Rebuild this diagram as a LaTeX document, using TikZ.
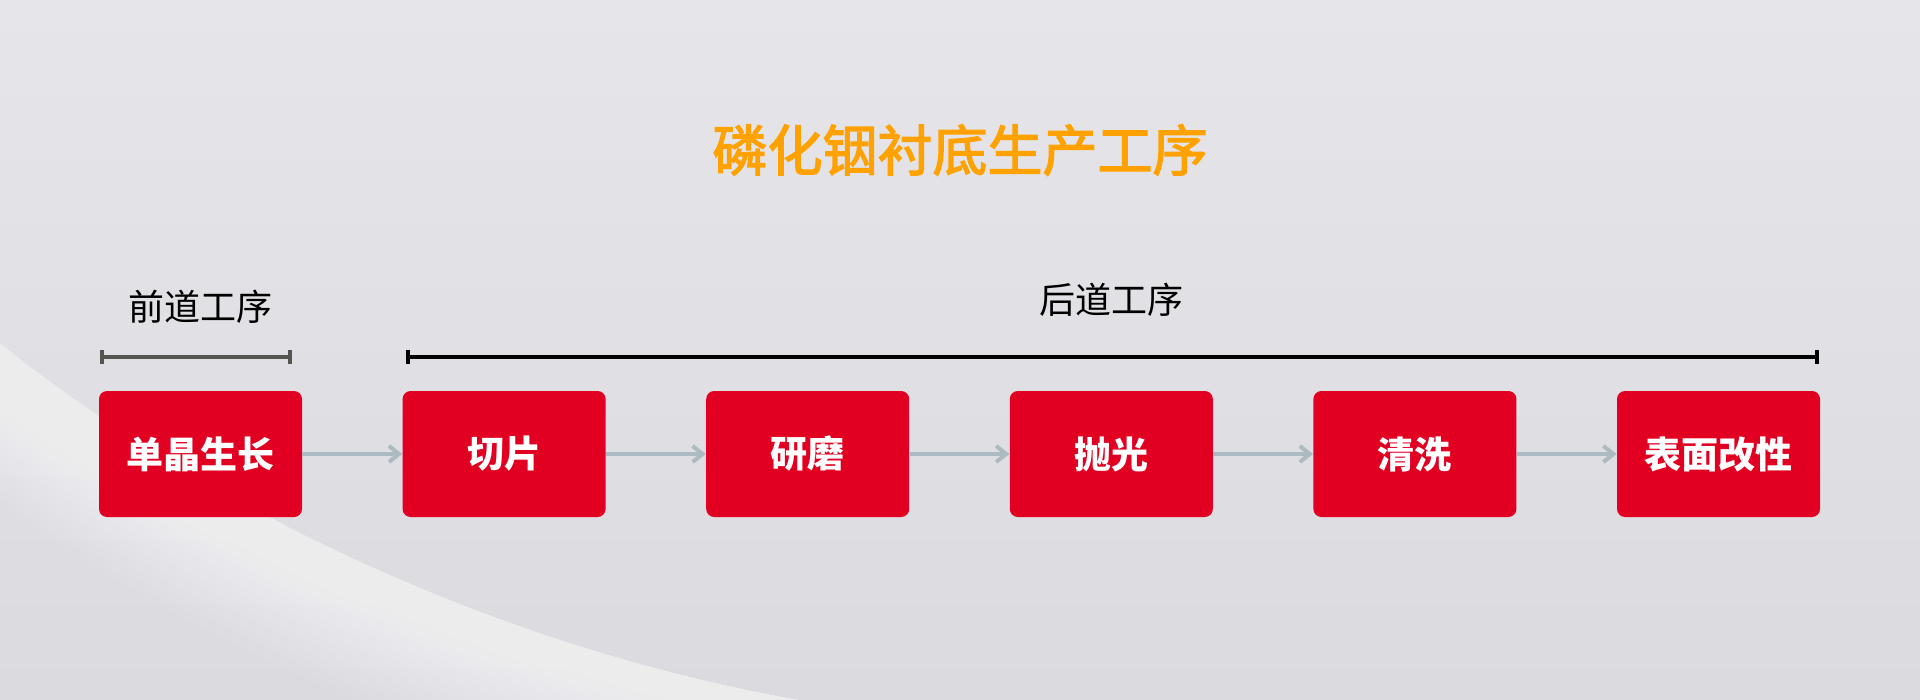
\documentclass[tikz,border=0pt]{standalone}
\usepackage{fontspec}
\setmainfont{Noto Sans CJK SC}
\newfontfamily\titlefont{Noto Sans CJK SC}[FakeBold=2.5]
\usepackage{tikz}
\usetikzlibrary{arrows.meta}

\definecolor{bggray}{RGB}{219,218,223}
\definecolor{bglight}{RGB}{230,229,233}
\definecolor{boxred}{RGB}{225,0,34}
\definecolor{titleorange}{RGB}{255,162,0}
\definecolor{flowgray}{RGB}{172,186,193}
\definecolor{frontgray}{RGB}{85,85,80}

\tikzset{
  stepbox/.style={fill=boxred, rounded corners=4pt, minimum width=101.5pt, minimum height=63pt,
    inner sep=0pt, text=white, font=\bfseries\fontsize{18.5}{18.5}\selectfont},
  flow/.style={draw=flowgray, line width=2pt, -{Straight Barb[length=5pt,width=8pt]}},
  span/.style={line width=1.8pt, {Bar[width=7pt]}-{Bar[width=7pt]}},
  spanlabel/.style={inner sep=0pt, font=\fontsize{18}{18}\selectfont},
  glow/.style={draw=white, line cap=round}
}

\begin{document}
\begin{tikzpicture}[x=0.5pt,y=0.5pt,yscale=-1,xscale=1]
\useasboundingbox (0,0) rectangle (1920,700);

%Background
\fill [top color=bglight, bottom color=bggray] (0,0) rectangle (1920,700);
%Swoosh lower left
\begin{scope}
\clip (0,343) .. controls (170,480) and (460,640) .. (800,700) -- (0,700) -- cycle;
\foreach \w in {6,18,...,260}
  \draw [glow, line width=\w*0.5pt, opacity=0.05] (0,343) .. controls (170,480) and (460,640) .. (800,700);
\end{scope}
%Swoosh lower right
\begin{scope}
\clip (1350,700) .. controls (1560,640) and (1760,600) .. (1920,585) -- (1920,700) -- cycle;
\foreach \w in {8,20,...,260}
  \draw [glow, line width=\w*0.5pt, opacity=0.025] (1350,700) .. controls (1560,640) and (1760,600) .. (1920,585);
\end{scope}

% Text Node
\node (title) [inner sep=0pt, text=titleorange, font=\titlefont\fontsize{27.5}{27.5}\selectfont] at (960,150) {磷化铟衬底生产工序};

%Process boxes
\node (grow)   [stepbox] at (200.5,454) {单晶生长};
\node (slice)  [stepbox] at (504.1,454) {切片};
\node (grind)  [stepbox] at (807.7,454) {研磨};
\node (polish) [stepbox] at (1111.3,454) {抛光};
\node (clean)  [stepbox] at (1414.9,454) {清洗};
\node (modify) [stepbox] at (1718.5,454) {表面改性};

%Straight Lines
\draw [flow] (grow) -- (slice);
\draw [flow] (slice) -- (grind);
\draw [flow] (grind) -- (polish);
\draw [flow] (polish) -- (clean);
\draw [flow] (clean) -- (modify);

%Brackets
\coordinate (frontL) at (100,357);
\coordinate (frontR) at (292,357);
\coordinate (backL) at (406,357);
\coordinate (backR) at (1819,357);
\draw [span, frontgray] (frontL) -- (frontR);
\draw [span, black] (backL) -- (backR);

% Text Node
\node (front) [spanlabel] at (200,307) {前道工序};
% Text Node
\node (back) [spanlabel] at (1111,300) {后道工序};

\end{tikzpicture}
\end{document}
